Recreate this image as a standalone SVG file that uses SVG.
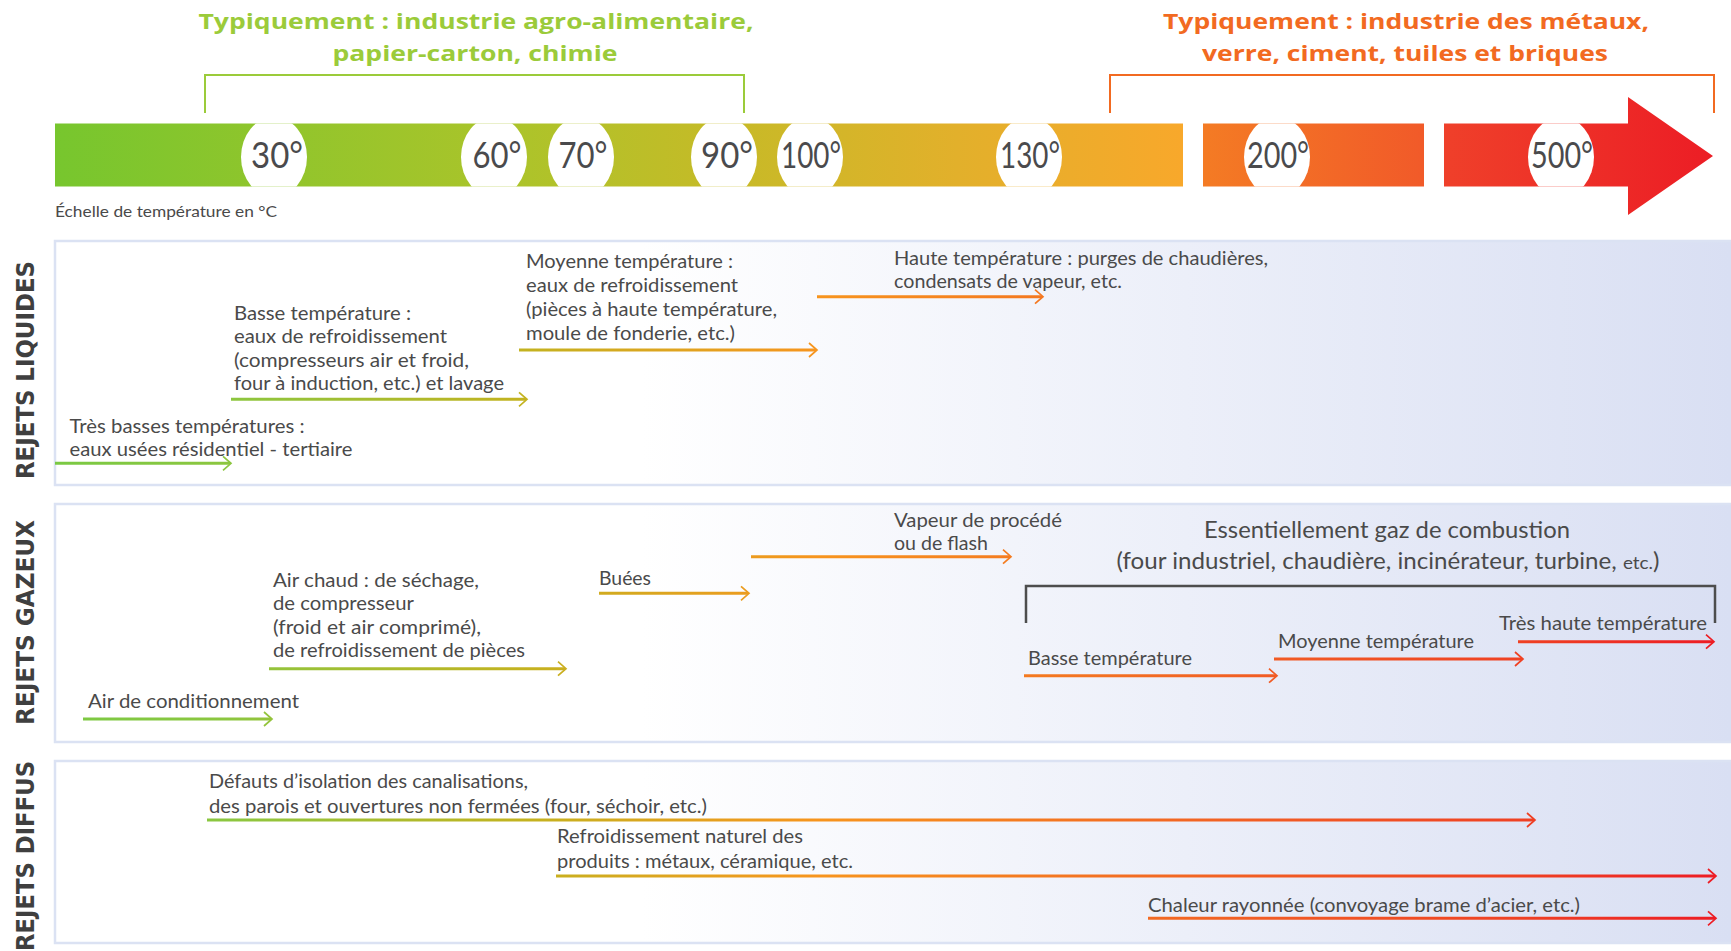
<svg xmlns="http://www.w3.org/2000/svg" width="1731" height="951" viewBox="0 0 1731 951">
<defs>
<style>
.t{font-family:Lato,"Open Sans","Liberation Sans",sans-serif;font-size:19px;fill:#4a4a4a}
.num{font-family:Lato,"Liberation Sans",sans-serif;font-size:36px;fill:#4a4a4c;text-anchor:middle}
.ttl{font-family:"Open Sans","Liberation Sans",sans-serif;font-weight:700;font-size:22px;text-anchor:middle}
.side{font-family:"DejaVu Sans","Liberation Sans",sans-serif;font-weight:700;font-size:25px;fill:#3f3f3f;text-anchor:middle}
.ln{fill:none;stroke:url(#ag);stroke-width:3}
.hd{fill:none;stroke:url(#ag);stroke-width:1.7}
.panel{fill:url(#pg);stroke:#dbe2f3;stroke-width:2.5}
</style>
<linearGradient id="g1" x1="0" y1="0" x2="1" y2="0">
<stop offset="0" stop-color="#77c62e"/>
<stop offset="0.4" stop-color="#abc42a"/>
<stop offset="0.6" stop-color="#c7ba27"/>
<stop offset="0.8" stop-color="#e2b02b"/>
<stop offset="1" stop-color="#f8a82b"/>
</linearGradient>
<linearGradient id="g2" x1="0" y1="0" x2="1" y2="0">
<stop offset="0" stop-color="#f47b24"/>
<stop offset="1" stop-color="#f15a29"/>
</linearGradient>
<linearGradient id="g3" x1="0" y1="0" x2="1" y2="0">
<stop offset="0" stop-color="#ef402a"/>
<stop offset="1" stop-color="#ec1d25"/>
</linearGradient>
<linearGradient id="ag" gradientUnits="userSpaceOnUse" x1="55" y1="0" x2="1716" y2="0">
<stop offset="0" stop-color="#7ac943"/>
<stop offset="0.105" stop-color="#8cc63f"/>
<stop offset="0.285" stop-color="#c4b21f"/>
<stop offset="0.388" stop-color="#e3a11f"/>
<stop offset="0.46" stop-color="#f7941d"/>
<stop offset="0.584" stop-color="#f47a20"/>
<stop offset="0.737" stop-color="#f15a24"/>
<stop offset="0.882" stop-color="#ef4123"/>
<stop offset="1" stop-color="#ed1c24"/>
</linearGradient>
<linearGradient id="pg" gradientUnits="userSpaceOnUse" x1="55" y1="0" x2="1731" y2="0">
<stop offset="0" stop-color="#ffffff"/>
<stop offset="0.35" stop-color="#ffffff"/>
<stop offset="1" stop-color="#d9dff3"/>
</linearGradient>
<clipPath id="barclip">
<rect x="55" y="123.5" width="1128" height="63"/>
<rect x="1203" y="123.5" width="221" height="63"/>
<polygon points="1444,123.5 1628,123.5 1628,97 1713,156 1628,215 1628,186.5 1444,186.5"/>
</clipPath>
</defs>

<!-- titles -->
<g id="title-agro">
<text class="ttl" fill="#9bcb3a" x="476" y="29" textLength="555" lengthAdjust="spacingAndGlyphs">Typiquement : industrie agro-alimentaire,</text>
<text class="ttl" fill="#9bcb3a" x="475" y="60.5" textLength="285" lengthAdjust="spacingAndGlyphs">papier-carton, chimie</text>
<path d="M205 113 V75 H744 V113" fill="none" stroke="#9bcb3a" stroke-width="2"/>
</g>
<g id="title-metaux">
<text class="ttl" fill="#f26a21" x="1406" y="29" textLength="486" lengthAdjust="spacingAndGlyphs">Typiquement : industrie des métaux,</text>
<text class="ttl" fill="#f26a21" x="1405" y="60.5" textLength="406" lengthAdjust="spacingAndGlyphs">verre, ciment, tuiles et briques</text>
<path d="M1110 113 V75 H1714 V113" fill="none" stroke="#f26a21" stroke-width="2"/>
</g>

<!-- temperature scale -->
<g id="scale">
<rect x="55" y="123.5" width="1128" height="63" fill="url(#g1)"/>
<rect x="1203" y="123.5" width="221" height="63" fill="url(#g2)"/>
<polygon points="1444,123.5 1628,123.5 1628,97 1713,156 1628,215 1628,186.5 1444,186.5" fill="url(#g3)"/>
<g clip-path="url(#barclip)" fill="#ffffff">
<ellipse cx="274" cy="157" rx="33" ry="40"/>
<ellipse cx="494" cy="157" rx="33" ry="40"/>
<ellipse cx="581" cy="157" rx="33" ry="40"/>
<ellipse cx="724" cy="157" rx="33" ry="40"/>
<ellipse cx="810" cy="157" rx="33" ry="40"/>
<ellipse cx="1029" cy="157" rx="33" ry="40"/>
<ellipse cx="1277" cy="157" rx="33" ry="40"/>
<ellipse cx="1561" cy="157" rx="33" ry="40"/>
</g>
<text class="num" x="277" y="168" textLength="52" lengthAdjust="spacingAndGlyphs">30°</text>
<text class="num" x="497" y="168" textLength="49" lengthAdjust="spacingAndGlyphs">60°</text>
<text class="num" x="583" y="168" textLength="49" lengthAdjust="spacingAndGlyphs">70°</text>
<text class="num" x="727" y="168" textLength="52" lengthAdjust="spacingAndGlyphs">90°</text>
<text class="num" x="811" y="168" textLength="60" lengthAdjust="spacingAndGlyphs">100°</text>
<text class="num" x="1030" y="168" textLength="60" lengthAdjust="spacingAndGlyphs">130°</text>
<text class="num" x="1278" y="168" textLength="62" lengthAdjust="spacingAndGlyphs">200°</text>
<text class="num" x="1562" y="168" textLength="62" lengthAdjust="spacingAndGlyphs">500°</text>
<text class="t" x="55" y="217" style="font-size:15px" textLength="222" lengthAdjust="spacingAndGlyphs">Échelle de température en °C</text>
</g>

<!-- panels -->
<g id="panel-liquides">
<rect class="panel" x="55" y="241" width="1700" height="244"/>
<text class="side" transform="translate(33.5 370) rotate(-90)" textLength="218" lengthAdjust="spacingAndGlyphs">REJETS LIQUIDES</text>
</g>
<g id="panel-gazeux">
<rect class="panel" x="55" y="504" width="1700" height="238"/>
<text class="side" transform="translate(33.5 622.5) rotate(-90)" textLength="205" lengthAdjust="spacingAndGlyphs">REJETS GAZEUX</text>
</g>
<g id="panel-diffus">
<rect class="panel" x="55" y="761" width="1700" height="182"/>
<text class="side" transform="translate(33.5 856) rotate(-90)" textLength="190" lengthAdjust="spacingAndGlyphs">REJETS DIFFUS</text>
</g>

<!-- connectors -->
<g id="connectors">
<path class="ln" d="M55 463.3 H230"/><path class="hd" d="M223 456.3 L231 463.3 L223 470.3"/>
<path class="ln" d="M231 399.3 H526"/><path class="hd" d="M519 392.3 L527 399.3 L519 406.3"/>
<path class="ln" d="M519 350 H816"/><path class="hd" d="M809 343 L817 350 L809 357"/>
<path class="ln" d="M817 296.7 H1042"/><path class="hd" d="M1035 289.7 L1043 296.7 L1035 303.7"/>
<path class="ln" d="M83 719 H271"/><path class="hd" d="M264 712 L272 719 L264 726"/>
<path class="ln" d="M269 668.7 H565"/><path class="hd" d="M558 661.7 L566 668.7 L558 675.7"/>
<path class="ln" d="M599 593.3 H748"/><path class="hd" d="M741 586.3 L749 593.3 L741 600.3"/>
<path class="ln" d="M751 556.7 H1010"/><path class="hd" d="M1003 549.7 L1011 556.7 L1003 563.7"/>
<path d="M1026 623 V586 H1715 V623" fill="none" stroke="#4d4d4d" stroke-width="2.5"/>
<path class="ln" d="M1024 675.7 H1276"/><path class="hd" d="M1269 668.7 L1277 675.7 L1269 682.7"/>
<path class="ln" d="M1274 659 H1522"/><path class="hd" d="M1515 652 L1523 659 L1515 666"/>
<path class="ln" d="M1518 641.7 H1713"/><path class="hd" d="M1706 634.7 L1714 641.7 L1706 648.7"/>
<path class="ln" d="M207 820 H1534"/><path class="hd" d="M1527 813 L1535 820 L1527 827"/>
<path class="ln" d="M556 876 H1715"/><path class="hd" d="M1708 869 L1716 876 L1708 883"/>
<path class="ln" d="M1148 918.3 H1715"/><path class="hd" d="M1708 911.3 L1716 918.3 L1708 925.3"/>
</g>

<!-- node labels -->
<g id="n-tres-basses">
<text class="t" x="69.5" y="432.5" textLength="235" lengthAdjust="spacingAndGlyphs">Très basses températures :</text>
<text class="t" x="69.5" y="455.5" textLength="283" lengthAdjust="spacingAndGlyphs">eaux usées résidentiel - tertiaire</text>
</g>
<g id="n-basse-liq">
<text class="t" x="234" y="320" textLength="177" lengthAdjust="spacingAndGlyphs">Basse température :</text>
<text class="t" x="234" y="343.3" textLength="213" lengthAdjust="spacingAndGlyphs">eaux de refroidissement</text>
<text class="t" x="234" y="366.7" textLength="235" lengthAdjust="spacingAndGlyphs">(compresseurs air et froid,</text>
<text class="t" x="234" y="389.5" textLength="270" lengthAdjust="spacingAndGlyphs">four à induction, etc.) et lavage</text>
</g>
<g id="n-moyenne-liq">
<text class="t" x="526" y="267.5" textLength="207" lengthAdjust="spacingAndGlyphs">Moyenne température :</text>
<text class="t" x="526" y="291.5" textLength="212" lengthAdjust="spacingAndGlyphs">eaux de refroidissement</text>
<text class="t" x="526" y="316" textLength="251" lengthAdjust="spacingAndGlyphs">(pièces à haute température,</text>
<text class="t" x="526" y="340" textLength="209" lengthAdjust="spacingAndGlyphs">moule de fonderie, etc.)</text>
</g>
<g id="n-haute-liq">
<text class="t" x="894" y="265" textLength="374" lengthAdjust="spacingAndGlyphs">Haute température : purges de chaudières,</text>
<text class="t" x="894" y="288.3" textLength="228" lengthAdjust="spacingAndGlyphs">condensats de vapeur, etc.</text>
</g>
<g id="n-air-cond">
<text class="t" x="88" y="708" textLength="211" lengthAdjust="spacingAndGlyphs">Air de conditionnement</text>
</g>
<g id="n-air-chaud">
<text class="t" x="273" y="587" textLength="206" lengthAdjust="spacingAndGlyphs">Air chaud : de séchage,</text>
<text class="t" x="273" y="610" textLength="141" lengthAdjust="spacingAndGlyphs">de compresseur</text>
<text class="t" x="273" y="633.5" textLength="208" lengthAdjust="spacingAndGlyphs">(froid et air comprimé),</text>
<text class="t" x="273" y="657" textLength="252" lengthAdjust="spacingAndGlyphs">de refroidissement de pièces</text>
</g>
<g id="n-buees">
<text class="t" x="599" y="585" textLength="52" lengthAdjust="spacingAndGlyphs">Buées</text>
</g>
<g id="n-vapeur">
<text class="t" x="894" y="527" textLength="168" lengthAdjust="spacingAndGlyphs">Vapeur de procédé</text>
<text class="t" x="894" y="549.5" textLength="94" lengthAdjust="spacingAndGlyphs">ou de flash</text>
</g>
<g id="n-combustion">
<text class="t" x="1387" y="538" style="font-size:23px;text-anchor:middle" textLength="366" lengthAdjust="spacingAndGlyphs">Essentiellement gaz de combustion</text>
<text class="t" x="1388" y="568.5" style="font-size:23px;text-anchor:middle" textLength="543" lengthAdjust="spacingAndGlyphs">(four industriel, chaudière, incinérateur, turbine, <tspan style="font-size:18px">etc.</tspan>)</text>
</g>
<g id="n-basse-gaz">
<text class="t" x="1028" y="665" textLength="164" lengthAdjust="spacingAndGlyphs">Basse température</text>
</g>
<g id="n-moyenne-gaz">
<text class="t" x="1278" y="648" textLength="196" lengthAdjust="spacingAndGlyphs">Moyenne température</text>
</g>
<g id="n-tres-haute-gaz">
<text class="t" x="1499" y="630" textLength="208" lengthAdjust="spacingAndGlyphs">Très haute température</text>
</g>
<g id="n-defauts">
<text class="t" x="209" y="788.3" textLength="319" lengthAdjust="spacingAndGlyphs">Défauts d’isolation des canalisations,</text>
<text class="t" x="209" y="812.5" textLength="498" lengthAdjust="spacingAndGlyphs">des parois et ouvertures non fermées (four, séchoir, etc.)</text>
</g>
<g id="n-refroid-nat">
<text class="t" x="557" y="843.3" textLength="246" lengthAdjust="spacingAndGlyphs">Refroidissement naturel des</text>
<text class="t" x="557" y="868.3" textLength="296" lengthAdjust="spacingAndGlyphs">produits : métaux, céramique, etc.</text>
</g>
<g id="n-chaleur">
<text class="t" x="1148" y="911.5" textLength="432" lengthAdjust="spacingAndGlyphs">Chaleur rayonnée (convoyage brame d’acier, etc.)</text>
</g>
</svg>
